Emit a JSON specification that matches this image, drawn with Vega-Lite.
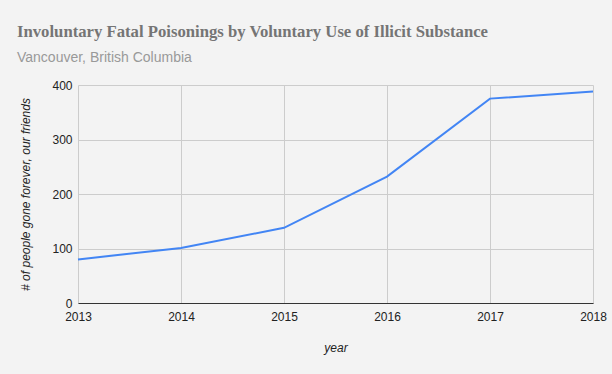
{
  "$schema": "https://vega.github.io/schema/vega-lite/v6.json",
  "width": 515,
  "height": 218,
  "autosize": {"type": "none"},
  "padding": {"left": 78, "top": 85, "right": 19, "bottom": 71},
  "background": "#f3f3f3",
  "title": {
    "text": "Involuntary Fatal Poisonings by Voluntary Use of Illicit Substance",
    "subtitle": "Vancouver, British Columbia",
    "anchor": "start",
    "frame": "group",
    "dx": -61,
    "offset": 14,
    "font": "Liberation Serif",
    "fontSize": 16.7,
    "fontWeight": "bold",
    "color": "#757575",
    "subtitleFont": "Liberation Sans",
    "subtitleFontSize": 14,
    "subtitleColor": "#999999",
    "subtitlePadding": 10
  },
  "config": {
    "view": {"stroke": null},
    "axis": {
      "labelFont": "Liberation Sans",
      "labelFontSize": 12,
      "labelColor": "#222222",
      "titleFont": "Liberation Sans",
      "titleFontSize": 12,
      "titleFontStyle": "italic",
      "titleFontWeight": "normal",
      "titleColor": "#222222",
      "gridColor": "#cccccc",
      "gridOpacity": 1,
      "ticks": false
    }
  },
  "data": {
    "values": [
      {"year": 2013, "deaths": 80},
      {"year": 2014, "deaths": 101},
      {"year": 2015, "deaths": 138},
      {"year": 2016, "deaths": 232},
      {"year": 2017, "deaths": 375},
      {"year": 2018, "deaths": 388}
    ]
  },
  "mark": {"type": "line", "color": "#4285f4", "strokeWidth": 2},
  "encoding": {
    "x": {
      "field": "year",
      "type": "quantitative",
      "scale": {"domain": [2013, 2018], "nice": false, "zero": false},
      "axis": {
        "title": "year",
        "format": "d",
        "values": [2013, 2014, 2015, 2016, 2017, 2018],
        "domainColor": "#333333",
        "labelPadding": 8,
        "titlePadding": 20,
        "labelFlush": false
      }
    },
    "y": {
      "field": "deaths",
      "type": "quantitative",
      "scale": {"domain": [0, 400], "nice": false},
      "axis": {
        "title": "# of people gone forever, our friends",
        "values": [0, 100, 200, 300, 400],
        "domain": false,
        "labelPadding": 6,
        "titlePadding": 19
      }
    }
  }
}
